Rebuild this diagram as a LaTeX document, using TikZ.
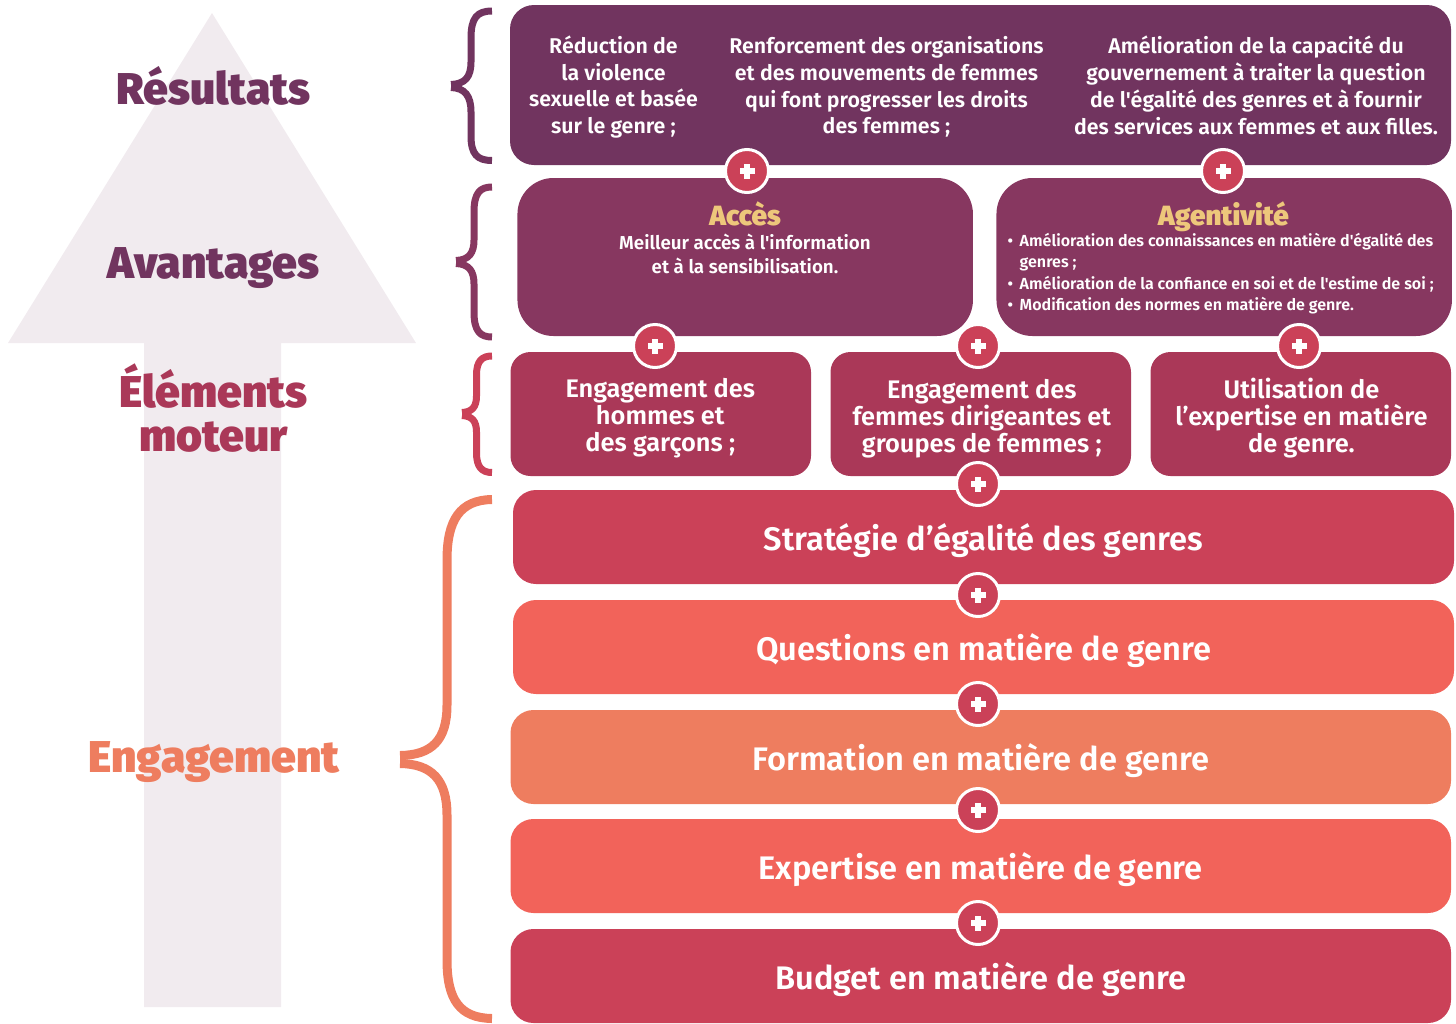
\documentclass[tikz,border=0pt]{standalone}
\usepackage{fontspec}
\setmainfont{Fira Sans}
\newfontfamily\fmed{Fira Sans SemiBold}
\newfontfamily\fhead{Fira Sans Black}
\usetikzlibrary{calc}
\definecolor{cA}{HTML}{71345F}
\definecolor{cB}{HTML}{873760}
\definecolor{cC}{HTML}{AA3858}
\definecolor{cD}{HTML}{CB4158}
\definecolor{cE}{HTML}{F2635A}
\definecolor{cF}{HTML}{EE7D5F}
\definecolor{cG}{HTML}{EDC77B}
\definecolor{cBg}{HTML}{F1EBEF}
\newcommand{\fz}[2]{\fontsize{#1}{#2}\selectfont}
\tikzset{
 x=1pt,y=-1pt,
 boxn/.style={rectangle,inner sep=0pt,text=white,align=center,font=\fmed},
 textn/.style={inner sep=0pt,text=white,align=center,font=\fmed},
 headn/.style={inner sep=0pt,align=center,font=\fhead},
 brc/.style={line cap=butt,line join=round},
 plusn/.style={circle,minimum size=43pt,inner sep=0pt,outer sep=0pt,fill=cD,draw=white,line width=3pt,
   path picture={
     \fill[white] ($(path picture bounding box.center)+(-7.5,-2.8)$) rectangle ($(path picture bounding box.center)+(7.5,2.8)$);
     \fill[white] ($(path picture bounding box.center)+(-2.8,-7.5)$) rectangle ($(path picture bounding box.center)+(2.8,7.5)$);
   }},
}
\newcommand{\mkbox}[9]{% name,x1,y1,x2,y2,r,colour,fontsize,text
 \node[boxn,fill=#7,rounded corners=#6pt,minimum width=#4pt-#2pt,minimum height=#5pt-#3pt,font=\fmed\fz{#8}{27},text depth=0pt] (#1) at ({(#2+#4)/2},{(#3+#5)/2}) {#9};}
\begin{document}
\begin{tikzpicture}
\useasboundingbox (0,0) rectangle (1456,1023);
% background arrow
\fill[cBg] (212,13) -- (416,343) -- (281,343) -- (281,1007) -- (144,1007) -- (144,343) -- (8,343) -- cycle;
% headings
\node[headn,text=cA,font=\fhead\fz{44.5}{44}] (hres) at (213.5,86) {Résultats};
\node[headn,text=cA,font=\fhead\fz{44.5}{44}] (hava) at (213.5,268) {Avantages};
\node[headn,text=cC,font=\fhead\fz{44.5}{44}] (helm) at (213.5,408) {Éléments\\moteur};
\node[headn,text=cF,font=\fhead\fz{44.5}{44}] (heng) at (214,762) {Engagement};
% braces
\draw[brc,cA,line width=7pt] (492,11) .. controls (477,11) and (471,18) .. (471,38) -- (471,62) .. controls (471,77) and (465,84) .. (451,84.5);
\draw[brc,cA,line width=7pt] (451,87.5) .. controls (465,88) and (471,96) .. (471,112) -- (471,136) .. controls (471,154) and (477,160.5) .. (492,160.5);
\draw[brc,cB,line width=7pt] (492,187) .. controls (480,187) and (474,193) .. (474,212) -- (474,240) .. controls (474,253) and (469,260) .. (456,260.5);
\draw[brc,cB,line width=7pt] (456,263.5) .. controls (469,264) and (474,271) .. (474,284) -- (474,312) .. controls (474,331) and (480,337) .. (492,337);
\draw[brc,cD,line width=7pt] (492,356) .. controls (482,356) and (476.5,361) .. (476.5,375) -- (476.5,396) .. controls (476.5,407) and (472,412) .. (462,412.5);
\draw[brc,cD,line width=7pt] (462,415.5) .. controls (472,416) and (476.5,421) .. (476.5,432) -- (476.5,453) .. controls (476.5,467) and (482,472.5) .. (492,472.5);
\draw[brc,cF,line width=9pt] (492,499.5) .. controls (460,500) and (447,520) .. (447,560) -- (447,705) .. controls (447,740) and (432,755) .. (400,755.5);
\draw[brc,cF,line width=9pt] (400,763.5) .. controls (432,764) and (447,780) .. (447,815) -- (447,960) .. controls (447,1000) and (460,1018) .. (492,1018.5);
% top box
\node[boxn,fill=cA,rounded corners=24pt,minimum width=941pt,minimum height=160pt] (top) at (980.5,85) {};
\node[textn,font=\fmed\fz{21.35}{26.8}] (t1) at (613.5,87) {Réduction de\\la violence\\sexuelle et basée\\sur le genre ;};
\node[textn,font=\fmed\fz{21.35}{26.8}] (t2) at (886.5,87) {Renforcement des organisations\\et des mouvements de femmes\\qui font progresser les droits\\des femmes ;};
\node[textn,font=\fmed\fz{21.35}{26.8}] (t3) at (1256,85.5) {Amélioration de la capacité du\\gouvernement à traiter la question\\de l'égalité des genres et à fournir\\des services aux femmes et aux filles.};
% second row
\node[boxn,fill=cB,rounded corners=36pt,minimum width=455.5pt,minimum height=158pt] (acc) at (745.2,257) {};
\node[boxn,fill=cB,rounded corners=36pt,minimum width=455.5pt,minimum height=158pt] (age) at (1224.2,257) {};
\node[headn,text=cG,font=\fhead\fz{27.8}{28}] (acct) at (745,214) {Accès};
\node[textn,font=\fmed\fz{18.75}{24}] (accb) at (745,254) {Meilleur accès à l'information\\et à la sensibilisation.};
\node[headn,text=cG,font=\fhead\fz{27.8}{28}] (aget) at (1223.5,217) {Agentivité};
\node[textn,anchor=north west,align=left,font=\fmed\fz{16.05}{21.3}] (ageb) at (1007.5,233) {%
 \makebox[12pt][l]{•}Amélioration des connaissances en matière d'égalité des\\
 \makebox[12pt][l]{}genres ;\\
 \makebox[12pt][l]{•}Amélioration de la confiance en soi et de l'estime de soi ;\\
 \makebox[12pt][l]{•}Modification des normes en matière de genre.};
% third row
\mkbox{e1}{510.5}{352}{811}{476}{20}{cC}{25.4}{}
\mkbox{e2}{830.5}{352}{1131}{476}{20}{cC}{25.4}{}
\mkbox{e3}{1150.5}{352}{1451}{476}{20}{cC}{25.4}{}
\node[textn,font=\fmed\fz{25.4}{27}] (et1) at (660.3,418.5) {Engagement des\\hommes et\\des garçons ;};
\node[textn,font=\fmed\fz{25.4}{27}] (et2) at (981.8,418.5) {Engagement des\\femmes dirigeantes et\\groupes de femmes ;};
\node[textn,font=\fmed\fz{25.4}{27}] (et3) at (1301.5,418.5) {Utilisation de\\l’expertise en matière\\de genre.};
% bars
\mkbox{b1}{513}{490}{1454}{584}{23}{cD}{32.6}{Stratégie d’égalité des genres}
\mkbox{b2}{513}{600}{1454}{694}{23}{cE}{32.6}{Questions en matière de genre}
\mkbox{b3}{510.5}{710}{1451}{804}{23}{cF}{32.6}{Formation en matière de genre}
\mkbox{b4}{510.5}{819}{1451}{913}{23}{cE}{32.6}{Expertise en matière de genre}
\mkbox{b5}{510.5}{929}{1451}{1023}{23}{cD}{32.6}{Budget en matière de genre}
% plus
\foreach \n/\px/\py in {p1/747/171,p2/1223/171,p3/655/346,p4/978/346,p5/1299/346,p6/978/484,p7/978/595,p8/978/704,p9/978/810,p10/978/923}
 \node[plusn] (\n) at (\px,\py) {};
\end{tikzpicture}
\end{document}
